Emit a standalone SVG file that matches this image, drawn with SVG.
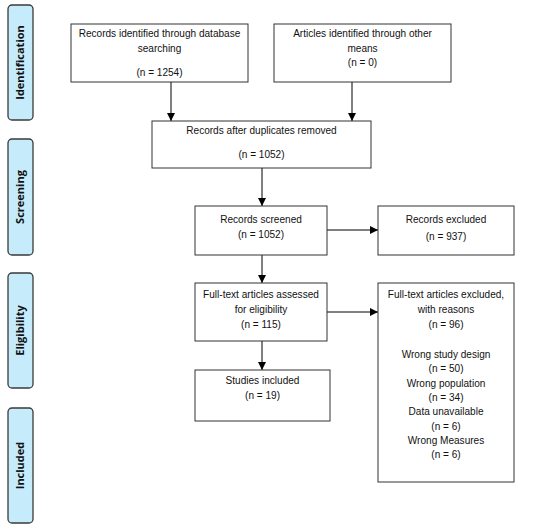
<svg xmlns="http://www.w3.org/2000/svg" width="550" height="529" viewBox="0 0 550 529">
<defs>
<marker id="ah" markerWidth="8" markerHeight="8" viewBox="0 0 8 8" refX="8" refY="4" orient="auto" markerUnits="userSpaceOnUse">
<path d="M0,0 L8,4 L0,8 Z" fill="#000"/>
</marker>
<style>
.pill{fill:#c6ecfb;stroke:#3a3a3a;stroke-width:1.3}
.pt{font-family:"Open Sans","Noto Sans",sans-serif;font-weight:bold;font-size:11px;fill:#111;text-anchor:middle}
.box{fill:#fff;stroke:#333;stroke-width:1}
.t{font-family:"Liberation Sans",Arial,sans-serif;font-size:11.5px;fill:#111;text-anchor:middle}
.c{stroke:#000;stroke-width:1;fill:none;marker-end:url(#ah)}
</style>
</defs>
<rect width="550" height="529" fill="#fff"/>
<g id="stage-identification"><rect class="pill" x="8" y="5" width="25" height="115" rx="4"/><text class="pt" transform="translate(20.5 62.5) rotate(-90)" dy="0.36em">Identification</text></g>
<g id="stage-screening"><rect class="pill" x="8" y="139" width="25" height="116" rx="4"/><text class="pt" transform="translate(20.5 197) rotate(-90)" dy="0.36em">Screening</text></g>
<g id="stage-eligibility"><rect class="pill" x="8" y="273" width="25" height="115" rx="4"/><text class="pt" transform="translate(20.5 330.5) rotate(-90)" dy="0.36em">Eligibility</text></g>
<g id="stage-included"><rect class="pill" x="8" y="408" width="25" height="115" rx="4"/><text class="pt" transform="translate(20.5 465.5) rotate(-90)" dy="0.36em">Included</text></g>

<g id="connectors">
<line class="c" x1="171" y1="82" x2="171" y2="121"/>
<line class="c" x1="352" y1="82" x2="352" y2="121"/>
<line class="c" x1="262" y1="168" x2="262" y2="206"/>
<line class="c" x1="327" y1="230" x2="378" y2="230"/>
<line class="c" x1="262" y1="255" x2="262" y2="283"/>
<line class="c" x1="327" y1="312" x2="378" y2="312"/>
<line class="c" x1="262" y1="341" x2="262" y2="370"/>
</g>

<g id="db-records"><rect class="box" x="71" y="24" width="177" height="58"/>
<g transform="translate(159.5 0) scale(0.876 1)"><text class="t" x="0" y="37">Records identified through database</text><text class="t" x="0" y="52">searching</text><text class="t" x="0" y="76">(n = 1254)</text></g></g>
<g id="other-records"><rect class="box" x="274" y="24" width="177" height="58"/>
<g transform="translate(362.5 0) scale(0.876 1)"><text class="t" x="0" y="37">Articles identified through other</text><text class="t" x="0" y="52">means</text><text class="t" x="0" y="66">(n = 0)</text></g></g>
<g id="dedup"><rect class="box" x="152" y="121" width="219" height="47"/>
<g transform="translate(261.5 0) scale(0.876 1)"><text class="t" x="0" y="134">Records after duplicates removed</text><text class="t" x="0" y="158">(n = 1052)</text></g></g>
<g id="screened"><rect class="box" x="195" y="206" width="132" height="49"/>
<g transform="translate(261 0) scale(0.876 1)"><text class="t" x="0" y="223">Records screened</text><text class="t" x="0" y="238">(n = 1052)</text></g></g>
<g id="excluded"><rect class="box" x="378" y="206" width="136" height="49"/>
<g transform="translate(446 0) scale(0.876 1)"><text class="t" x="0" y="223">Records excluded</text><text class="t" x="0" y="240">(n = 937)</text></g></g>
<g id="fulltext"><rect class="box" x="195" y="283" width="132" height="58"/>
<g transform="translate(261 0) scale(0.876 1)"><text class="t" x="0" y="298">Full-text articles assessed</text><text class="t" x="0" y="313">for eligibility</text><text class="t" x="0" y="328">(n = 115)</text></g></g>
<g id="included"><rect class="box" x="195" y="370" width="135" height="51"/>
<g transform="translate(262.5 0) scale(0.876 1)"><text class="t" x="0" y="384">Studies included</text><text class="t" x="0" y="399">(n = 19)</text></g></g>
<g id="fulltext-excluded"><rect class="box" x="378" y="283" width="136" height="199"/>
<g transform="translate(446 0) scale(0.876 1)"><text class="t" x="0" y="298">Full-text articles excluded,</text><text class="t" x="0" y="313">with reasons</text><text class="t" x="0" y="328">(n = 96)</text><text class="t" x="0" y="358">Wrong study design</text><text class="t" x="0" y="372">(n = 50)</text><text class="t" x="0" y="387">Wrong population</text><text class="t" x="0" y="401">(n = 34)</text><text class="t" x="0" y="415">Data unavailable</text><text class="t" x="0" y="430">(n = 6)</text><text class="t" x="0" y="444">Wrong Measures</text><text class="t" x="0" y="458">(n = 6)</text></g></g>
</svg>
